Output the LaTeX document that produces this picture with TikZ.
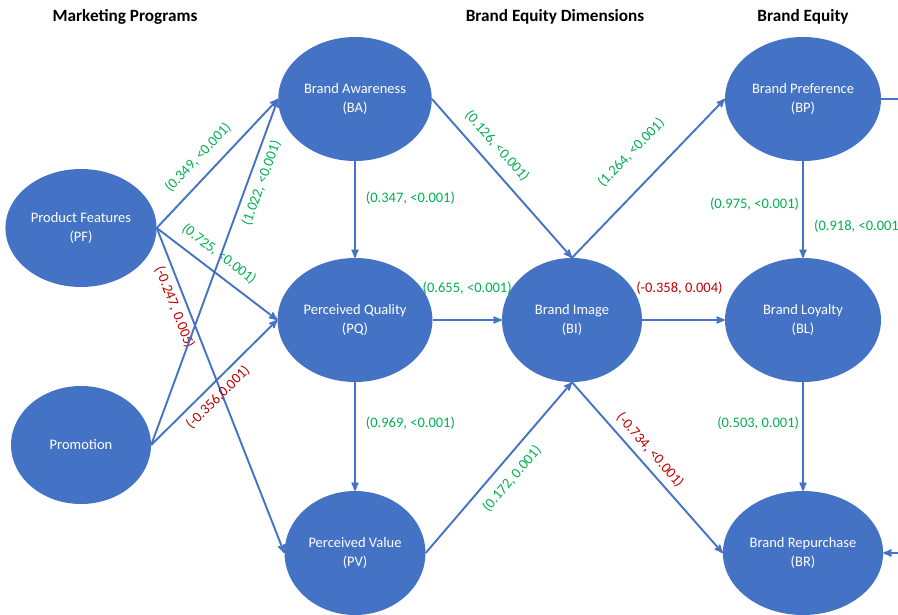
\documentclass[tikz,border=0pt]{standalone}
\usepackage{fontspec}
\setmainfont{Carlito}
\usepackage{tikz}
\usetikzlibrary{arrows,shapes}

\definecolor{constructblue}{RGB}{68,114,196}
\definecolor{estgreen}{RGB}{0,176,80}
\definecolor{estred}{RGB}{192,0,0}

\begin{document}
\begin{tikzpicture}[->,>=stealth',x=1pt,y=-1pt,auto]
  \tikzstyle{construct}=[ellipse,
                                    fill=constructblue,
                                    text=white,
                                    minimum width=140pt,
                                    minimum height=124pt,
                                    align=center,
                                    font=\fontsize{14.5}{19}\selectfont]
  \tikzstyle{construct_wide}=[construct,minimum width=156pt]
  \tikzstyle{construct_low}=[construct,minimum height=118pt]
  \tikzstyle{header}=[font=\fontsize{17.2}{20}\selectfont\bfseries]
  \tikzstyle{pos_est}=[text=estgreen,font=\fontsize{14.5}{17}\selectfont,inner sep=1pt]
  \tikzstyle{neg_est}=[text=estred,font=\fontsize{14.5}{17}\selectfont,inner sep=1pt]
  \tikzstyle{link}=[color=constructblue,line width=1.9pt]
  \useasboundingbox (0,0) rectangle (898,615);
  %Titulos
  \node[header] (H1) [shift={(125,17)}] {Marketing Programs};
  \node[header] (H2) [shift={(555,17)}] {Brand Equity Dimensions};
  \node[header] (H3) [shift={(803,17)}] {Brand Equity};
  %Programas de marketing
  \node[construct_low] (PF) [shift={(81,228)}] {Product Features\\(PF)};
  \node[construct_low] (PR) [shift={(81,445)}] {Promotion};
  %Dimensiones
  \node[construct] (BA) [shift={(355,99)}] {Brand Awareness\\(BA)};
  \node[construct] (PQ) [shift={(355,320)}] {Perceived Quality\\(PQ)};
  \node[construct] (PV) [shift={(355,553)}] {Perceived Value\\(PV)};
  \node[construct] (BI) [shift={(572,320)}] {Brand Image\\(BI)};
  %Brand equity
  \node[construct_wide] (BP) [shift={(803,99)}] {Brand Preference\\(BP)};
  \node[construct_wide] (BL) [shift={(803,320)}] {Brand Loyalty\\(BL)};
  \node[construct_wide] (BR) [shift={(803,553)}] {Brand Repurchase\\(BR)};

  \path[link] (PF.east) edge node[pos_est,sloped,above=10pt,pos=0.45] {(0.349, <0.001)} (BA.west)
            edge node[pos_est,sloped,above=9pt,pos=0.43] {(0.725, <0.001)} (PQ.west)
            edge node[neg_est,sloped,below=4pt,pos=0.23] {(-0.247, 0.005)} (PV.west)
        (PR.east) edge node[pos_est,sloped,below=5pt,pos=0.77] {(1.022, <0.001)} (BA.west)
            edge node[neg_est,sloped,below=5pt,pos=0.455] {(-0.356,0.001)} (PQ.west)
        (BA.south) edge node[pos_est,right=9pt,pos=0.38] {(0.347, <0.001)} (PQ.north)
        (BA.east) edge node[pos_est,sloped,above=9.5pt,pos=0.37] {(0.126, <0.001)} (BI.north)
        (PQ.east) edge node[pos_est,above=24pt,pos=0.5] {(0.655, <0.001)} (BI.west)
        (PQ.south) edge node[pos_est,right=9pt,pos=0.38] {(0.969, <0.001)} (PV.north)
        (PV.east) edge node[pos_est,sloped,below=9pt,pos=0.5] {(0.172, 0.001)} (BI.south)
        (BI.north) edge node[pos_est,sloped,above=22pt,pos=0.53] {(1.264, <0.001)} (BP.west)
        (BI.east) edge node[neg_est,above=24pt,pos=0.45] {(-0.358, 0.004)} (BL.west)
        (BI.south) edge node[neg_est,sloped,above=5.5pt,pos=0.45] {(-0.734, <0.001)} (BR.west)
        (BP.south) edge node[pos_est,left=2pt,pos=0.45] {(0.975, <0.001)} (BL.north)
        (BL.south) edge node[pos_est,left=2pt,pos=0.38] {(0.503, 0.001)} (BR.north);
  \draw[link] (BP.east) -- ++(40,0) |- (BR.east);
  \node[pos_est,anchor=west] (E918) [shift={(813,226)}] {(0.918, <0.001)};
\end{tikzpicture}
\end{document}
